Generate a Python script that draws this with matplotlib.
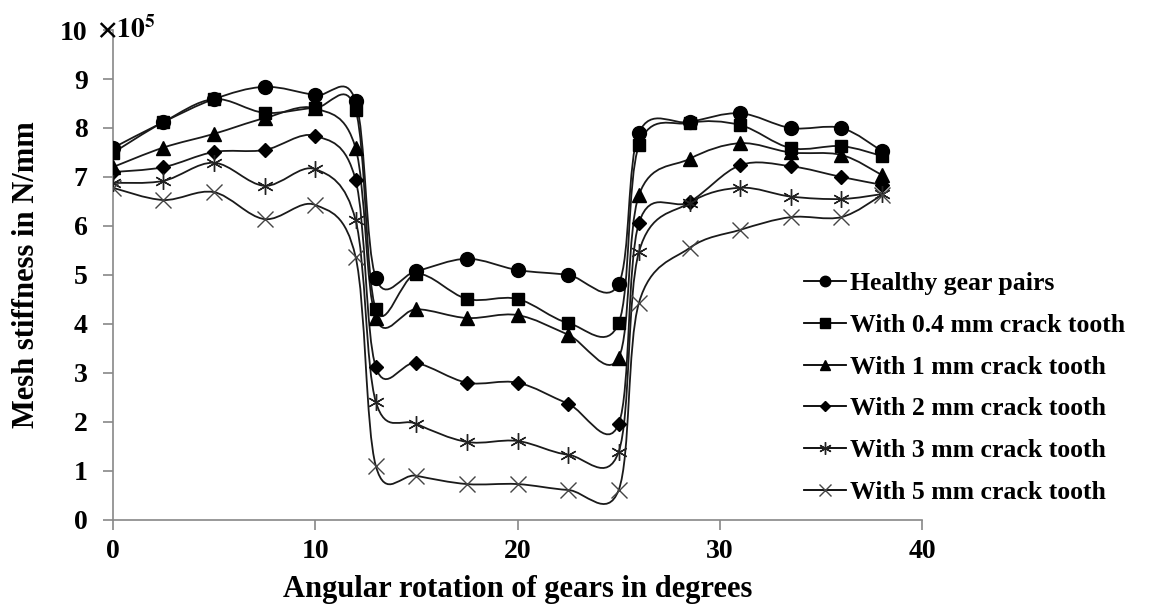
import numpy as np
import matplotlib
matplotlib.use("Agg")
import matplotlib.pyplot as plt
from matplotlib.path import Path
from matplotlib.patches import PathPatch
from matplotlib.lines import Line2D

plt.rcParams['font.family'] = ['Liberation Serif', 'DejaVu Serif']
plt.rcParams['font.weight'] = 'bold'
plt.rcParams['mathtext.fontset'] = 'stix'

# angular rotation (degrees)
angle = [0, 2.5, 5, 7.5, 10, 12, 13, 15, 17.5, 20, 22.5, 25, 26, 28.5, 31, 33.5, 36, 38]

# mesh stiffness, x 1e5 N/mm
healthy = [7.59, 8.12, 8.59, 8.84, 8.67, 8.55, 4.94, 5.08, 5.33, 5.10, 5.00, 4.82,
           7.90, 8.12, 8.30, 8.00, 8.00, 7.53]
crack_04 = [7.49, 8.12, 8.59, 8.31, 8.41, 8.37, 4.30, 5.02, 4.51, 4.51, 4.02, 4.02,
            7.65, 8.10, 8.06, 7.59, 7.63, 7.43]
crack_1 = [7.20, 7.60, 7.88, 8.20, 8.40, 7.59, 4.12, 4.30, 4.12, 4.18, 3.78, 3.31,
           6.63, 7.37, 7.69, 7.50, 7.45, 7.04]
crack_2 = [7.10, 7.20, 7.51, 7.55, 7.84, 6.94, 3.12, 3.20, 2.80, 2.80, 2.37, 1.96,
           6.06, 6.49, 7.24, 7.22, 7.00, 6.84]
crack_3 = [6.88, 6.92, 7.29, 6.82, 7.16, 6.12, 2.41, 1.96, 1.59, 1.61, 1.33, 1.39,
           5.47, 6.47, 6.78, 6.60, 6.55, 6.65]
crack_5 = [6.78, 6.53, 6.69, 6.14, 6.43, 5.37, 1.10, 0.90, 0.73, 0.73, 0.61, 0.61,
           4.43, 5.55, 5.92, 6.18, 6.18, 6.63]

labels = ["Healthy gear pairs", "With 0.4 mm crack tooth", "With 1 mm crack tooth",
          "With 2 mm crack tooth", "With 3 mm crack tooth", "With 5 mm crack tooth"]
series = [healthy, crack_04, crack_1, crack_2, crack_3, crack_5]

asterisk = (6, 2, 0)
styles = [
    dict(marker='o', markersize=10, markerfacecolor='black', markeredgecolor='black'),
    dict(marker='s', markersize=9, markerfacecolor='black', markeredgecolor='black'),
    dict(marker='^', markersize=10, markerfacecolor='black', markeredgecolor='black'),
    dict(marker='D', markersize=7, markerfacecolor='black', markeredgecolor='black'),
    dict(marker=asterisk, markersize=12, markeredgecolor='#222222', markeredgewidth=1.0),
    dict(marker='x', markersize=11, markeredgecolor='#444444', markeredgewidth=1.0),
]


def smooth_path(x, y):
    # Excel-like smoothed line: Catmull-Rom converted to cubic Bezier
    pts = np.column_stack([x, y]).astype(float)
    n = len(pts)
    verts = [pts[0]]
    codes = [Path.MOVETO]
    for i in range(n - 1):
        p0 = pts[max(i - 1, 0)]
        p1 = pts[i]
        p2 = pts[i + 1]
        p3 = pts[min(i + 2, n - 1)]
        c1 = p1 + (p2 - p0) / 6.0
        c2 = p2 - (p3 - p1) / 6.0
        verts += [c1, c2, p2]
        codes += [Path.CURVE4] * 3
    return Path(verts, codes)


fig = plt.figure(figsize=(11.5, 6.13), dpi=100)
ax = fig.add_axes([0.098, 0.152, 0.704, 0.799])

handles = []
for vals, lab, st in zip(series, labels, styles):
    patch = PathPatch(smooth_path(angle, vals), facecolor='none', edgecolor='#1a1a1a',
                      lw=1.3, zorder=2)
    ax.add_patch(patch)
    ax.plot(angle, vals, linestyle='none', zorder=3, **st)
    handles.append(Line2D([], [], color='black', lw=1.3, **st))

ax.set_xlim(0, 40)
ax.set_ylim(0, 10)
ax.set_xticks(range(0, 41, 10))
ax.set_yticks(range(0, 11))

for s in ['top', 'right']:
    ax.spines[s].set_visible(False)
for s in ['left', 'bottom']:
    ax.spines[s].set_color('#888888')
    ax.spines[s].set_linewidth(1.2)
ax.tick_params(axis='both', direction='out', length=7, width=1.2, color='#888888',
               labelsize=20)
ax.tick_params(axis='y', pad=11)
ax.tick_params(axis='x', pad=7)
for t in ax.get_xticklabels() + ax.get_yticklabels():
    t.set_fontweight('bold')

ax.set_xlabel("Angular rotation of gears in degrees", fontsize=22, fontweight='bold',
              labelpad=8)
ax.set_ylabel("Mesh stiffness in N/mm", fontsize=22, fontweight='bold', labelpad=14)

fig.text(97 / 1150, 1 - 30 / 613, r"$\mathbf{\times 10^{5}}$", fontsize=20,
         ha='left', va='center')

leg = fig.legend(handles=handles, labels=labels, loc='upper left',
                 bbox_to_anchor=(0.688, 0.577), frameon=False, borderpad=0,
                 prop={'weight': 'bold', 'size': 18.5}, handlelength=1.65,
                 handletextpad=0.15, labelspacing=0.73, markerscale=0.75)

fig.savefig("out.png", dpi=100)
